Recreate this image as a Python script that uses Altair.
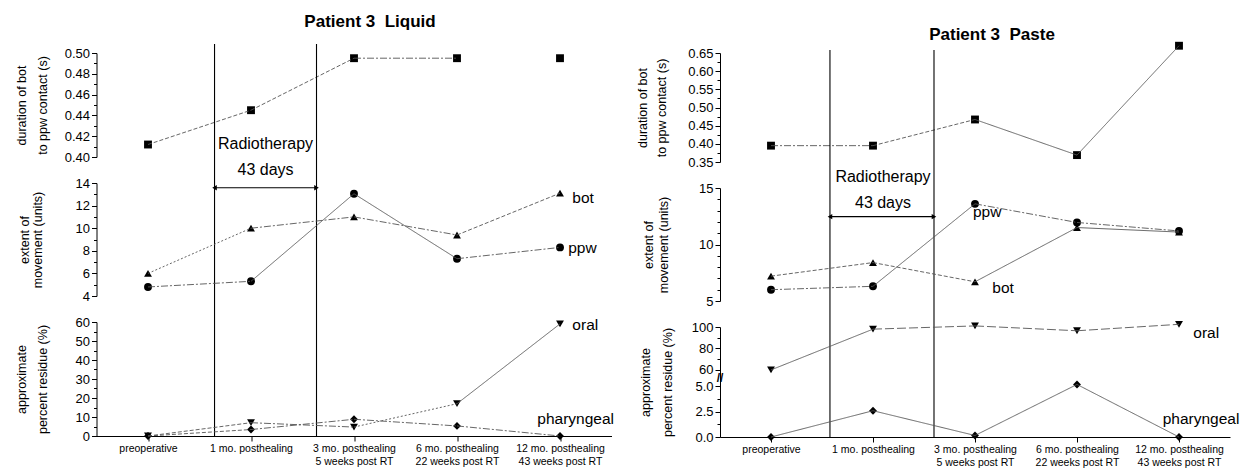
import json
import altair as alt
import pandas as pd

FONT = "Liberation Sans"

# ---------------- data ----------------
categories = ["preoperative", "1 mo. posthealing", "3 mo. posthealing\n5 weeks post RT",
              "6 mo. posthealing\n22 weeks post RT", "12 mo. posthealing\n43 weeks post RT"]
x_index = [0, 1, 2, 3, 4]

# Patient 3 Liquid
liquid_duration = [0.412, 0.445, 0.495, 0.495, 0.495]
liquid_bot = [6.0, 10.0, 11.0, 9.4, 13.1]
liquid_ppw = [4.8, 5.3, 13.05, 7.3, 8.3]
liquid_oral = [0.0, 7.0, 4.7, 17.0, 59.0]
liquid_pharyngeal = [0.0, 3.4, 8.8, 5.3, 0.0]

# Patient 3 Paste
paste_duration = [0.395, 0.395, 0.467, 0.369, 0.670]
paste_ppw = [6.0, 6.3, 13.6, 11.95, 11.2]
paste_bot = [7.2, 8.4, 6.7, 11.5, 11.1]
paste_oral = [60.0, 98.0, 101.0, 96.5, 102.5]
paste_pharyngeal = [0.0, 2.6, 0.15, 5.2, 0.0]

# radiotherapy window, on the category index axis
liquid_rt = [0.646, 1.636]
paste_rt = [0.578, 1.598]

# y tick values (major / minor)
liquid_duration_ticks = [0.40, 0.42, 0.44, 0.46, 0.48, 0.50]
liquid_duration_minor = [0.41, 0.43, 0.45, 0.47, 0.49]
liquid_move_ticks = [4, 6, 8, 10, 12, 14]
liquid_move_minor = [5, 7, 9, 11, 13]
liquid_resid_ticks = [0, 10, 20, 30, 40, 50, 60]
liquid_resid_minor = [5, 15, 25, 35, 45, 55]
paste_duration_ticks = [0.35, 0.40, 0.45, 0.50, 0.55, 0.60, 0.65]
paste_duration_minor = [0.375, 0.425, 0.475, 0.525, 0.575, 0.625]
paste_move_ticks = [5, 10, 15]
paste_move_minor = [6, 7, 8, 9, 11, 12, 13, 14]
paste_resid_ticks = [0.0, 2.5, 5.0, 60, 80, 100]
paste_resid_minor = [1.25, 3.75, 70, 90]

# ---------------- styles ----------------
series_names = ["duration", "bot", "ppw", "oral", "pharyngeal"]
shape_scale = alt.Scale(domain=series_names,
                        range=["square", "triangle-up", "circle", "triangle-down", "diamond"])
dash_scale = alt.Scale(domain=["solid", "dash", "dashdot", "longdash", "dot"],
                       range=[[1, 0], [4, 2], [7, 2, 2, 2], [9, 3], [2, 2]])

liquid_styles = {
    "duration": ["dash", "dash", "dashdot", "none"],
    "bot": ["dot", "dashdot", "dashdot", "dash"],
    "ppw": ["dashdot", "solid", "solid", "dashdot"],
    "oral": ["dash", "dashdot", "dot", "solid"],
    "pharyngeal": ["dash", "dashdot", "dashdot", "dashdot"],
}
paste_styles = {
    "duration": ["dashdot", "dash", "solid", "solid"],
    "bot": ["dash", "dash", "solid", "solid"],
    "ppw": ["dashdot", "solid", "dashdot", "dashdot"],
    "oral": ["solid", "longdash", "longdash", "longdash"],
    "pharyngeal": ["solid", "solid", "solid", "solid"],
}

# broken axis (paste residue): 0-5 below the break, 60-100 above it
LOW_MAX = 5.0
BREAK_AT = 30.0
BREAK_GAP = 1.637
UP_MIN = 60.0
UP_K = 0.1062
UP_START = LOW_MAX + BREAK_GAP


def brk(v):
    return v if v < BREAK_AT else UP_START + (v - UP_MIN) * UP_K


def brk_expr(f):
    return f"datum.{f} < {BREAK_AT} ? datum.{f} : {UP_START} + (datum.{f} - {UP_MIN}) * {UP_K}"


def ident_expr(f):
    return f"datum.{f}"


def points_df(series):
    rows = []
    for name, vals in series.items():
        for i, v in zip(x_index, vals):
            rows.append({"x": i, "v": v, "series": name})
    return pd.DataFrame(rows)


def segs_df(series, styles):
    rows = []
    for name, vals in series.items():
        for i in range(len(vals) - 1):
            st = styles[name][i]
            if st == "none":
                continue
            rows.append({"x": x_index[i], "x2": x_index[i + 1], "v": vals[i], "v2": vals[i + 1],
                         "series": name, "style": st})
    return pd.DataFrame(rows)


def y_axis(values, title, title_x, title_lh, height, fmt=None, label_expr=None):
    kw = dict(values=values, orient="left", title=title, titleAngle=270, titleX=title_x,
              titleY=height / 2, titleAlign="center", titleBaseline="middle",
              titleLineHeight=title_lh, titleFontSize=12.5, titleFontWeight="normal",
              titleColor="black", labelFontSize=13, labelColor="black", tickSize=5,
              tickColor="black", domainColor="black", grid=False, labelPadding=2,
              labelFlush=False, labelOverlap=False)
    if fmt:
        kw["format"] = fmt
    if label_expr:
        kw["labelExpr"] = label_expr
    return alt.Axis(**kw)


def minor_axis(values):
    return alt.Axis(values=values, orient="left", labels=False, title=None, domain=False,
                    tickSize=3, tickColor="black", grid=False)


cat_lines = [c.split("\n") for c in categories]
X_AXIS = alt.Axis(values=x_index, labelExpr=json.dumps(cat_lines) + "[datum.value]", title=None,
                  tickSize=5, tickColor="black", domainColor="black", labelColor="black",
                  labelFontSize=10.5, labelLineHeight=13, labelPadding=2, grid=False,
                  labelFlush=False, labelOverlap=False)


def subplot(width, height, ydom, yaxis, minor, xaxis, points, segs, ymap=ident_expr,
            labels=None, notes=None, rt=None, rt_ext=None, arrow_v=None, breakmark=None,
            title=None):
    xs = alt.Scale(domain=[-0.5, 4.5], nice=False, zero=False)
    ys = alt.Scale(domain=ydom, nice=False, zero=False)

    def X(f):
        return alt.X(f"{f}:Q", scale=xs, axis=xaxis)

    def Y(f, axis=None):
        return alt.Y(f"{f}:Q", scale=ys, axis=axis)

    layers = []
    # main data points carry the main axis
    layers.append(alt.Chart(points).transform_calculate(yv=ymap("v"))
                  .mark_point(filled=True, opacity=1, color="black", size=62)
                  .encode(x=X("x"), y=Y("yv", yaxis),
                          shape=alt.Shape("series:N", scale=shape_scale, legend=None)))
    # connecting segments carry the minor-tick axis
    layers.append(alt.Chart(segs).transform_calculate(yv=ymap("v"), yv2=ymap("v2"))
                  .mark_rule(color="#555555", strokeWidth=0.9)
                  .encode(x=X("x"), x2="x2:Q", y=Y("yv", minor_axis(minor)), y2="yv2:Q",
                          strokeDash=alt.StrokeDash("style:N", scale=dash_scale, legend=None)))
    if rt is not None and rt_ext is not None:
        rtdf = pd.DataFrame({"x": rt, "v": [rt_ext[0]] * 2, "v2": [rt_ext[1]] * 2})
        layers.append(alt.Chart(rtdf).transform_calculate(yv="datum.v", yv2="datum.v2")
                      .mark_rule(color="black", strokeWidth=1.1)
                      .encode(x=X("x"), y=Y("yv"), y2="yv2:Q"))
    if labels is not None:
        layers.append(alt.Chart(labels).transform_calculate(yv=ymap("v"))
                      .mark_text(align="left", baseline="middle", fontSize=15.5, color="black")
                      .encode(x=X("x"), y=Y("yv"), text="text:N"))
    if notes is not None:
        layers.append(alt.Chart(notes).transform_calculate(yv="datum.v")
                      .mark_text(align="center", baseline="middle", fontSize=16, color="black")
                      .encode(x=X("x"), y=Y("yv"), text="text:N"))
    if arrow_v is not None:
        adf = pd.DataFrame({"x": [rt[0]], "x2": [rt[1]], "v": [arrow_v]})
        layers.append(alt.Chart(adf).transform_calculate(yv="datum.v")
                      .mark_rule(color="black", strokeWidth=1.2)
                      .encode(x=X("x"), x2="x2:Q", y=Y("yv")))
        hdf = pd.DataFrame({"x": rt, "v": [arrow_v] * 2, "head": ["triangle-left", "triangle-right"]})
        layers.append(alt.Chart(hdf).transform_calculate(yv="datum.v")
                      .mark_point(filled=True, opacity=1, color="black", size=28)
                      .encode(x=X("x"), y=Y("yv"),
                              shape=alt.Shape("head:N", scale=None, legend=None)))
    if breakmark is not None:
        bdf = pd.DataFrame({"x": [-0.5], "v": [breakmark], "text": ["//"]})
        layers.append(alt.Chart(bdf).transform_calculate(yv="datum.v")
                      .mark_text(align="center", baseline="middle", fontSize=12,
                                 fontWeight="bold", color="black")
                      .encode(x=X("x"), y=Y("yv"), text="text:N"))
    props = dict(width=width, height=height)
    if title is not None:
        props["title"] = title
    return alt.layer(*layers).resolve_axis(y="independent").properties(**props)


# ---------------- Liquid panel ----------------
LW = 515
lh_top, lh_mid, lh_bot = 104, 113, 114
liq_top = subplot(
    LW, lh_top, [0.40, 0.50],
    y_axis(liquid_duration_ticks, ["duration of bot", "to ppw contact (s)"], -75.5, 21, lh_top, fmt=".2f"),
    liquid_duration_minor,
    None,
    points_df({"duration": liquid_duration}),
    segs_df({"duration": liquid_duration}, liquid_styles),
    rt=liquid_rt, rt_ext=[0.5087, 0.1317],
    title=alt.TitleParams(text="Patient 3\u00a0\u00a0Liquid", fontSize=17, fontWeight="bold",
                          anchor="middle", frame="group", dx=16, offset=-1,
                          baseline="alphabetic", color="black"),
)
liq_mid = subplot(
    LW, lh_mid, [4, 14],
    y_axis(liquid_move_ticks, ["extent of", "movement (units)"], -72, 13, lh_mid, fmt="d"),
    liquid_move_minor,
    None,
    points_df({"bot": liquid_bot, "ppw": liquid_ppw}),
    segs_df({"bot": liquid_bot, "ppw": liquid_ppw}, liquid_styles),
    labels=pd.DataFrame({"x": [4.12, 4.08], "v": [12.67, 8.25], "text": ["bot", "ppw"]}),
    notes=pd.DataFrame({"x": [1.141, 1.141], "v": [17.45, 15.15], "text": ["Radiotherapy", "43 days"]}),
    rt=liquid_rt, arrow_v=13.58,
)
liq_bot = subplot(
    LW, lh_bot, [0, 60],
    y_axis(liquid_resid_ticks, ["approximate", "percent residue (%)"], -75, 20.5, lh_bot, fmt="d"),
    liquid_resid_minor,
    X_AXIS,
    points_df({"oral": liquid_oral, "pharyngeal": liquid_pharyngeal}),
    segs_df({"oral": liquid_oral, "pharyngeal": liquid_pharyngeal}, liquid_styles),
    labels=pd.DataFrame({"x": [4.12, 3.78], "v": [58.4, 8.95], "text": ["oral", "pharyngeal"]}),
)
liquid_panel = alt.vconcat(liq_top, liq_mid, liq_bot, spacing=26, bounds="flush")

# ---------------- Paste panel ----------------
PW = 510
ph_top, ph_mid, ph_bot = 109, 113, 110
resid_vals = [brk(v) for v in paste_resid_ticks]
resid_minor_vals = [brk(v) for v in paste_resid_minor]
resid_label_expr = (f"datum.value > {LOW_MAX + 0.5} ? format({UP_MIN} + (datum.value - {UP_START}) / {UP_K}, 'd')"
                    f" : format(datum.value, '.1f')")
pas_top = subplot(
    PW, ph_top, [0.35, 0.65],
    y_axis(paste_duration_ticks, ["duration of bot", "to ppw contact (s)"], -77.5, 19, ph_top, fmt=".2f"),
    paste_duration_minor,
    None,
    points_df({"duration": paste_duration}),
    segs_df({"duration": paste_duration}, paste_styles),
    rt=paste_rt, rt_ext=[0.6583, -0.4070],
    title=alt.TitleParams(text=["", "Patient 3\u00a0\u00a0Paste"], lineHeight=15, fontSize=17,
                          fontWeight="bold", anchor="middle", frame="group", dx=17, offset=-15,
                          baseline="alphabetic", color="black"),
)
pas_mid = subplot(
    PW, ph_mid, [5, 15],
    y_axis(paste_move_ticks, ["extent of", "movement (units)"], -71.5, 15, ph_mid, fmt="d"),
    paste_move_minor,
    None,
    points_df({"bot": paste_bot, "ppw": paste_ppw}),
    segs_df({"bot": paste_bot, "ppw": paste_ppw}, paste_styles),
    labels=pd.DataFrame({"x": [1.98, 2.17], "v": [12.88, 6.15], "text": ["ppw", "bot"]}),
    notes=pd.DataFrame({"x": [1.098, 1.098], "v": [16.0, 13.7], "text": ["Radiotherapy", "43 days"]}),
    rt=paste_rt, arrow_v=12.46,
)
pas_bot = subplot(
    PW, ph_bot, [0, brk(100)],
    y_axis(resid_vals, ["approximate", "percent residue (%)"], -75, 22, ph_bot,
           label_expr=resid_label_expr),
    resid_minor_vals,
    X_AXIS,
    points_df({"oral": paste_oral, "pharyngeal": paste_pharyngeal}),
    segs_df({"oral": paste_oral, "pharyngeal": paste_pharyngeal}, paste_styles),
    ymap=brk_expr,
    labels=pd.DataFrame({"x": [4.14, 3.84], "v": [94.2, 1.83], "text": ["oral", "pharyngeal"]}),
    breakmark=LOW_MAX + BREAK_GAP / 2,
)
paste_panel = alt.vconcat(pas_top, pas_mid, pas_bot, spacing=26, bounds="flush")

chart = (
    alt.hconcat(liquid_panel, paste_panel, spacing=21.5)
    .properties(padding={"left": 14.5, "top": 10, "right": 0, "bottom": 0})
    .configure(font=FONT)
    .configure_view(stroke=None)
)

chart.save("out.html", embed_options={"renderer": "svg", "actions": False})
